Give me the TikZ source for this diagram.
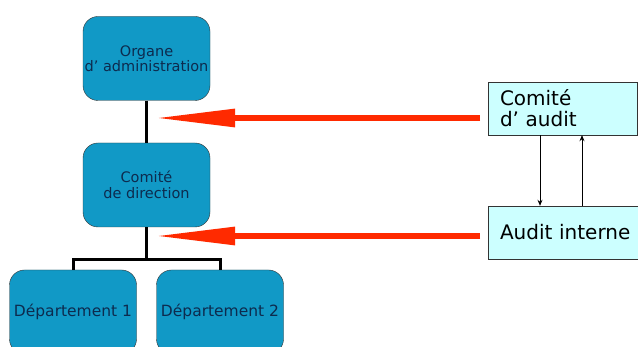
\documentclass[tikz,border=0pt]{standalone}
\usepackage{fontspec}
\setmainfont{DejaVu Sans}
\usepackage{tikz}
\usetikzlibrary{arrows.meta, positioning, calc}
\definecolor{orgblue}{HTML}{1199C6}
\definecolor{auditcyan}{HTML}{CCFFFF}
\definecolor{arrowred}{HTML}{FF2A00}
\definecolor{textnavy}{HTML}{0D2B4E}

\begin{document}
\begin{tikzpicture}[
          x=1pt, y=-1pt,
          orgbox/.style={rectangle, rounded corners=15pt, draw=black!80, fill=orgblue,
            text=textnavy, minimum width=127pt, minimum height=84pt, align=center,
            inner xsep=0pt, font=\fontsize{14.5}{15.5}\selectfont},
          deptbox/.style={orgbox, font=\fontsize{15.5}{17}\selectfont},
          auditbox/.style={rectangle, draw=black!80, fill=auditcyan, minimum height=53pt,
            inner xsep=12pt, align=left, font=\fontsize{20}{21}\selectfont},
          link/.style={draw, line width=3pt},
          redarrow/.style={line width=6pt, draw=arrowred,
            -{Triangle[length=80pt, width=17pt]}},
          flow/.style={-{Stealth[length=6pt, width=5pt]}, line width=0.8pt},
          >=Stealth
        ]
        \clip (0,0) rectangle (638,347);
        \fill[white] (0,0) rectangle (638,347);

        % organigramme
        \node [orgbox] (oa) at (146.5,58.5) {Organe\\d' administration};
        \node [orgbox] (cd) at (146.5,185) {Comité\\de direction};
        \node [deptbox] (d1) at (73,312) {Département 1};
        \node [deptbox] (d2) at (220,312) {Département 2};

        \draw [link] (oa) -- (cd);
        \draw [link] (cd.south) -- ++(0,32) coordinate (split);
        \draw [link] (d1.north) |- (split) -| (d2.north);

        % audit
        \node [auditbox, text width=125pt] (ca) at (562.5,108.5) {Comité\\d' audit};
        \node [auditbox, text width=150pt] (ai) at (575,232.5) {Audit interne};

        \draw [flow] (ca.south -| 540,0) -- (ai.north -| 540,0);
        \draw [flow] (ai.north -| 582,0) -- (ca.south -| 582,0);

        \coordinate (s1) at (480,118);
        \coordinate (t1) at (155,118);
        \coordinate (s2) at (480,236);
        \coordinate (t2) at (155,236);
        \draw [redarrow] (s1) -- (t1);
        \draw [redarrow] (s2) -- (t2);
\end{tikzpicture}
\end{document}
